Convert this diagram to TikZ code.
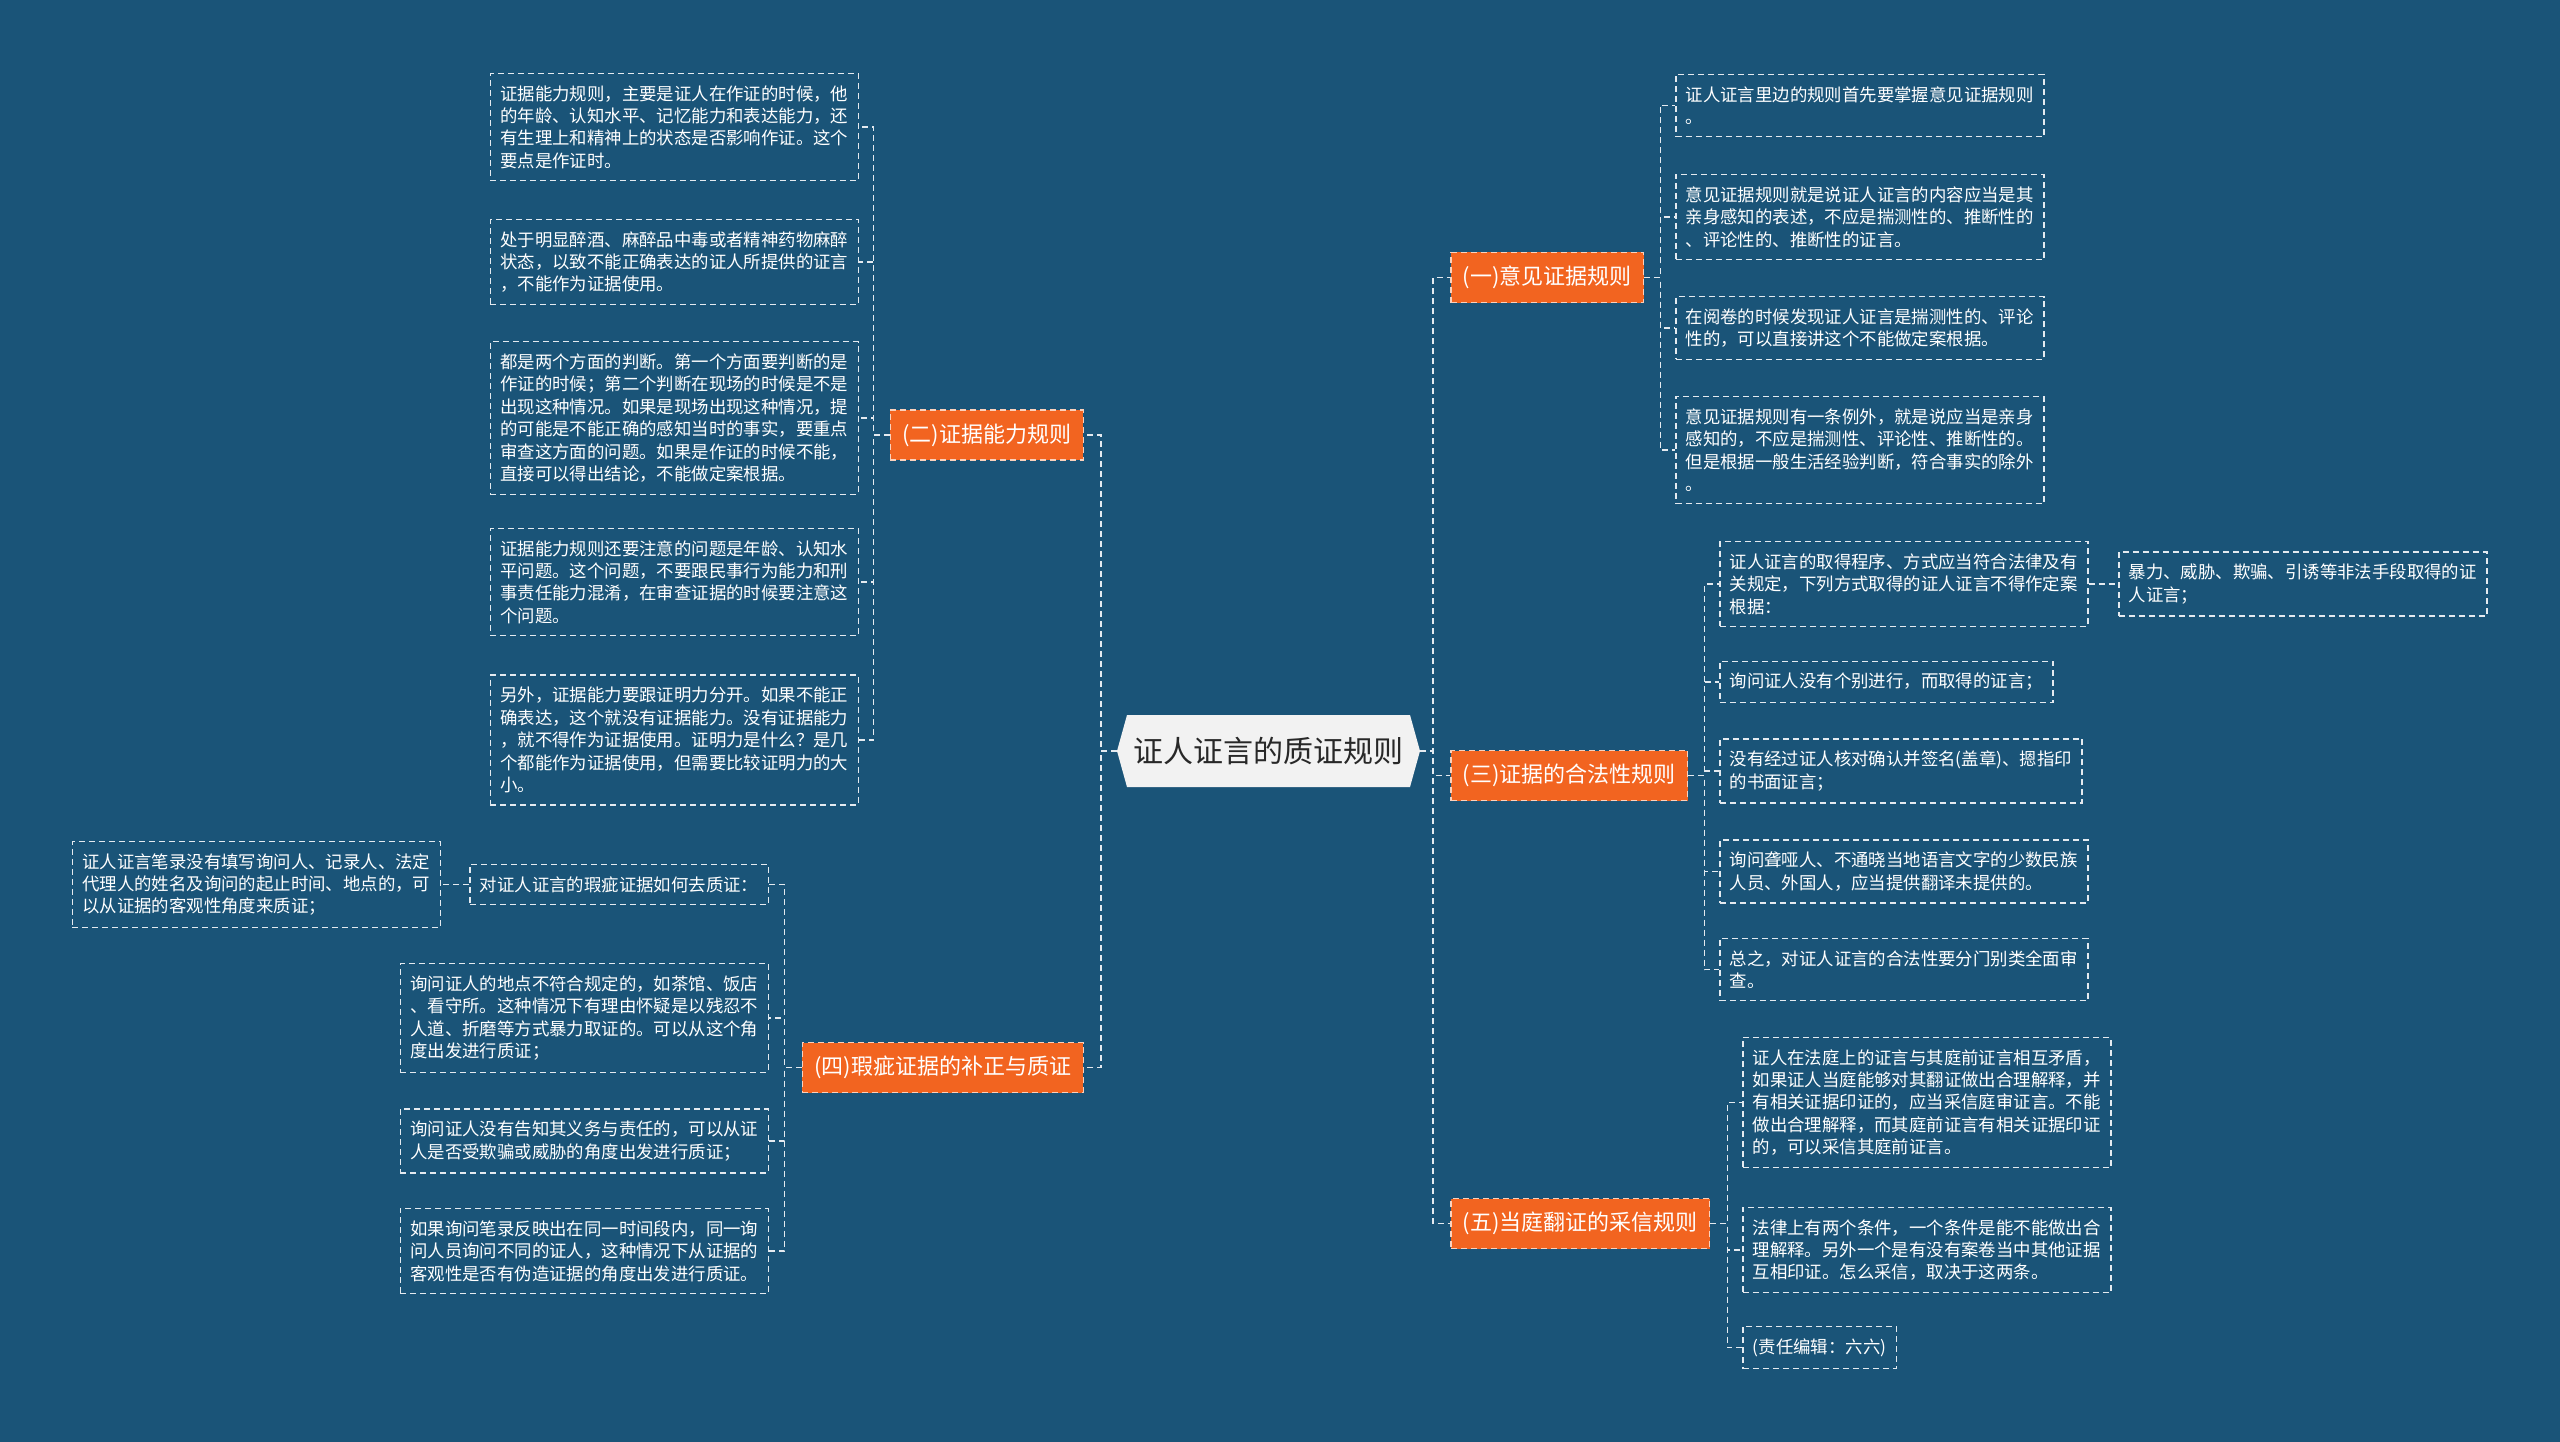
\documentclass[tikz,border=0pt]{standalone}
\usepackage{fontspec}
\setmainfont{Noto Sans CJK SC}
\definecolor{bg}{RGB}{26,84,120}
\definecolor{org}{RGB}{242,100,32}
\definecolor{rootfill}{RGB}{242,242,242}
\definecolor{rootfont}{RGB}{40,40,40}
\definecolor{lineclr}{RGB}{228,234,240}
\tikzset{
 conn/.style={draw=lineclr, line width=1.5pt, dash pattern=on 6pt off 4pt},
 leaf/.style={draw=lineclr, line width=1.5pt, dash pattern=on 6pt off 4pt, text=white, align=left, inner xsep=10pt, inner ysep=12pt, font=\fontsize{17.4}{22.4}\selectfont},
 topic/.style={fill=org, draw=white!70!org, line width=1.5pt, dash pattern=on 6pt off 4pt, text=white, inner xsep=12pt, inner ysep=0pt, minimum height=50pt, font=\fontsize{22}{26}\selectfont},
}
\begin{document}
\begin{tikzpicture}[x=1pt,y=-1pt]
\fill[bg] (0,0) rectangle (2560,1442);
\useasboundingbox (0,0) rectangle (2560,1442);
% root
\fill[rootfill] (1117,751) -- (1127,715) -- (1410,715) -- (1420,751) -- (1410,787) -- (1127,787) -- cycle;
\node[font=\fontsize{30}{36}\selectfont, text=rootfont, inner sep=0pt, minimum width=303pt, minimum height=72pt] (root) at (1268.5,751) {证人证言的质证规则};
% topics
\node[topic, anchor=west] (n1) at (1450,277.5) {(一)意见证据规则};
\node[topic, anchor=east] (n2) at (1084,435) {(二)证据能力规则};
\node[topic, anchor=west] (n3) at (1450,775.5) {(三)证据的合法性规则};
\node[topic, anchor=east] (n4) at (1084,1067.5) {(四)瑕疵证据的补正与质证};
\node[topic, anchor=west] (n5) at (1450,1223.5) {(五)当庭翻证的采信规则};
% (二) children
\node[leaf, anchor=east] (a1) at (859,127) {证据能力规则，主要是证人在作证的时候，他\\的年龄、认知水平、记忆能力和表达能力，还\\有生理上和精神上的状态是否影响作证。这个\\要点是作证时。};
\node[leaf, anchor=east] (a2) at (859,262) {处于明显醉酒、麻醉品中毒或者精神药物麻醉\\状态，以致不能正确表达的证人所提供的证言\\，不能作为证据使用。};
\node[leaf, anchor=east] (a3) at (859,418) {都是两个方面的判断。第一个方面要判断的是\\作证的时候；第二个判断在现场的时候是不是\\出现这种情况。如果是现场出现这种情况，提\\的可能是不能正确的感知当时的事实，要重点\\审查这方面的问题。如果是作证的时候不能，\\直接可以得出结论，不能做定案根据。};
\node[leaf, anchor=east] (a4) at (859,582) {证据能力规则还要注意的问题是年龄、认知水\\平问题。这个问题，不要跟民事行为能力和刑\\事责任能力混淆，在审查证据的时候要注意这\\个问题。};
\node[leaf, anchor=east] (a5) at (859,740) {另外，证据能力要跟证明力分开。如果不能正\\确表达，这个就没有证据能力。没有证据能力\\，就不得作为证据使用。证明力是什么？是几\\个都能作为证据使用，但需要比较证明力的大\\小。};
% (一) children
\node[leaf, anchor=west] (b1) at (1675,105.5) {证人证言里边的规则首先要掌握意见证据规则\\。};
\node[leaf, anchor=west] (b2) at (1675,217) {意见证据规则就是说证人证言的内容应当是其\\亲身感知的表述，不应是揣测性的、推断性的\\、评论性的、推断性的证言。};
\node[leaf, anchor=west] (b3) at (1675,328) {在阅卷的时候发现证人证言是揣测性的、评论\\性的，可以直接讲这个不能做定案根据。};
\node[leaf, anchor=west] (b4) at (1675,450) {意见证据规则有一条例外，就是说应当是亲身\\感知的，不应是揣测性、评论性、推断性的。\\但是根据一般生活经验判断，符合事实的除外\\。};
% (三) children
\node[leaf, anchor=west] (c1) at (1719,584) {证人证言的取得程序、方式应当符合法律及有\\关规定，下列方式取得的证人证言不得作定案\\根据：};
\node[leaf, anchor=west] (h1) at (2118,584) {暴力、威胁、欺骗、引诱等非法手段取得的证\\人证言；};
\node[leaf, anchor=west] (c2) at (1719,682) {询问证人没有个别进行，而取得的证言；};
\node[leaf, anchor=west] (c3) at (1719,771) {没有经过证人核对确认并签名(盖章)、摁指印\\的书面证言；};
\node[leaf, anchor=west] (c4) at (1719,871.5) {询问聋哑人、不通晓当地语言文字的少数民族\\人员、外国人，应当提供翻译未提供的。};
\node[leaf, anchor=west] (c5) at (1719,969.5) {总之，对证人证言的合法性要分门别类全面审\\查。};
% (五) children
\node[leaf, anchor=west] (d1) at (1742,1102.5) {证人在法庭上的证言与其庭前证言相互矛盾，\\如果证人当庭能够对其翻证做出合理解释，并\\有相关证据印证的，应当采信庭审证言。不能\\做出合理解释，而其庭前证言有相关证据印证\\的，可以采信其庭前证言。};
\node[leaf, anchor=west] (d2) at (1742,1250) {法律上有两个条件，一个条件是能不能做出合\\理解释。另外一个是有没有案卷当中其他证据\\互相印证。怎么采信，取决于这两条。};
\node[leaf, anchor=west] (d3) at (1742,1347.5) {(责任编辑：六六)};
% (四) children
\node[leaf, anchor=east] (e1) at (769,884.5) {对证人证言的瑕疵证据如何去质证：};
\node[leaf, anchor=east] (k1) at (441,884.5) {证人证言笔录没有填写询问人、记录人、法定\\代理人的姓名及询问的起止时间、地点的，可\\以从证据的客观性角度来质证；};
\node[leaf, anchor=east] (e2) at (769,1018) {询问证人的地点不符合规定的，如茶馆、饭店\\、看守所。这种情况下有理由怀疑是以残忍不\\人道、折磨等方式暴力取证的。可以从这个角\\度出发进行质证；};
\node[leaf, anchor=east] (e3) at (769,1141) {询问证人没有告知其义务与责任的，可以从证\\人是否受欺骗或威胁的角度出发进行质证；};
\node[leaf, anchor=east] (e4) at (769,1251) {如果询问笔录反映出在同一时间段内，同一询\\问人员询问不同的证人，这种情况下从证据的\\客观性是否有伪造证据的角度出发进行质证。};
% connectors
\foreach \t in {n2,n4} \draw[conn] (root.west) -- ++(-16,0) |- (\t.east);
\foreach \t in {n1,n3,n5} \draw[conn] (root.east) -- ++(13,0) |- (\t.west);
\foreach \t in {a1,a2,a3,a4,a5} \draw[conn] (n2.west) -- ++(-16,0) |- (\t.east);
\foreach \t in {e1,e2,e3,e4} \draw[conn] (n4.west) -- ++(-17,0) |- (\t.east);
\foreach \t in {b1,b2,b3,b4} \draw[conn] (n1.east) -- ++(16,0) |- (\t.west);
\foreach \t in {c1,c2,c3,c4,c5} \draw[conn] (n3.east) -- ++(16,0) |- (\t.west);
\foreach \t in {d1,d2,d3} \draw[conn] (n5.east) -- ++(17,0) |- (\t.west);
\draw[conn] (c1.east) -- (h1.west);
\draw[conn] (e1.west) -- (k1.east);
\end{tikzpicture}
\end{document}
